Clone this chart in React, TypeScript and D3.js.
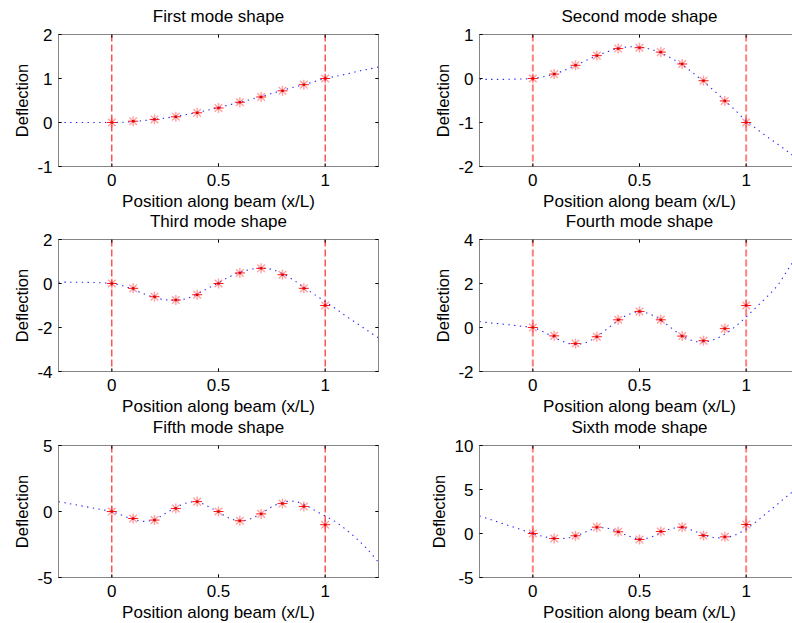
import React from 'react';
import * as d3 from 'd3';

// Beam mode shapes: sampled nodal deflections (asterisks) and the fitted shape (dotted)
const titles = [
  'First mode shape',
  'Second mode shape',
  'Third mode shape',
  'Fourth mode shape',
  'Fifth mode shape',
  'Sixth mode shape',
];

const xDomain: [number, number] = [-0.25, 1.25];
const xTicks = [0, 0.5, 1];
const xTickLabels = ['0', '0.5', '1'];

const yDomains: [number, number][] = [
  [-1, 2],
  [-2, 1],
  [-4, 2],
  [-2, 4],
  [-5, 5],
  [-5, 10],
];
const yTicks = [
  [-1, 0, 1, 2],
  [-2, -1, 0, 1],
  [-4, -2, 0, 2],
  [-2, 0, 2, 4],
  [-5, 0, 5],
  [-5, 0, 5, 10],
];

// Node positions along the beam
const nodeX = [0, 0.1, 0.2, 0.3, 0.4, 0.5, 0.6, 0.7, 0.8, 0.9, 1.0];

const mode1Nodes = [0, 0.03, 0.07, 0.13, 0.22, 0.33, 0.46, 0.58, 0.72, 0.86, 1.0];
const mode2Nodes = [0, 0.1, 0.3, 0.52, 0.68, 0.7, 0.6, 0.33, -0.05, -0.51, -1.0];
const mode3Nodes = [0, -0.22, -0.6, -0.75, -0.51, 0, 0.48, 0.69, 0.4, -0.22, -1.0];
const mode4Nodes = [0, -0.38, -0.73, -0.42, 0.35, 0.73, 0.35, -0.39, -0.6, -0.05, 1.0];
const mode5Nodes = [0, -0.53, -0.65, 0.23, 0.75, 0, -0.7, -0.18, 0.6, 0.38, -1.0];
const mode6Nodes = [0, -0.57, -0.26, 0.72, 0.19, -0.68, 0.23, 0.72, -0.23, -0.38, 1.02];

// Fitted shape sampled every 0.05 from -0.25 to 1.25
const curveX = [
  -0.25, -0.2, -0.15, -0.1, -0.05, 0, 0.05, 0.1, 0.15, 0.2, 0.25, 0.3, 0.35, 0.4, 0.45, 0.5,
  0.55, 0.6, 0.65, 0.7, 0.75, 0.8, 0.85, 0.9, 0.95, 1.0, 1.05, 1.1, 1.15, 1.2, 1.25,
];
const mode1Curve = [
  0, 0, 0, 0, 0, 0, 0.005, 0.02, 0.045, 0.07, 0.1, 0.14, 0.18, 0.23, 0.28, 0.34,
  0.4, 0.46, 0.52, 0.59, 0.66, 0.73, 0.8, 0.86, 0.93, 1.0, 1.05, 1.1, 1.16, 1.21, 1.26,
];
const mode2Curve = [
  -0.02, -0.02, -0.02, -0.015, -0.01, 0, 0.04, 0.1, 0.19, 0.3, 0.41, 0.52, 0.61, 0.68, 0.72, 0.71,
  0.67, 0.58, 0.46, 0.31, 0.13, -0.07, -0.28, -0.5, -0.73, -0.96, -1.15, -1.33, -1.5, -1.68, -1.86,
];
const mode3Curve = [
  0.06, 0.06, 0.055, 0.05, 0.03, 0, -0.1, -0.27, -0.47, -0.63, -0.74, -0.76, -0.68, -0.48, -0.22, 0.03,
  0.3, 0.5, 0.64, 0.7, 0.64, 0.45, 0.17, -0.17, -0.5, -0.82, -1.15, -1.5, -1.82, -2.15, -2.47,
];
const mode4Curve = [
  0.27, 0.21, 0.16, 0.11, 0.05, 0, -0.2, -0.45, -0.67, -0.77, -0.68, -0.42, -0.05, 0.32, 0.6, 0.72,
  0.6, 0.33, -0.03, -0.38, -0.6, -0.66, -0.55, -0.3, 0.05, 0.48, 0.95, 1.42, 1.95, 2.7, 3.4,
];
const mode5Curve = [
  0.75, 0.6, 0.45, 0.3, 0.15, 0, -0.3, -0.6, -0.75, -0.6, -0.15, 0.3, 0.65, 0.72, 0.4, -0.05,
  -0.5, -0.72, -0.55, -0.15, 0.35, 0.68, 0.78, 0.55, 0.1, -0.35, -0.8, -1.4, -2.1, -2.9, -3.85,
];
const mode6Curve = [
  2.0, 1.6, 1.2, 0.8, 0.4, 0, -0.35, -0.55, -0.55, -0.3, 0.2, 0.62, 0.6, 0.2, -0.3, -0.62,
  -0.45, 0.1, 0.55, 0.68, 0.35, -0.15, -0.45, -0.48, -0.15, 0.5, 1.4, 2.4, 3.4, 4.4, 5.3,
];

const nodeSeries = [mode1Nodes, mode2Nodes, mode3Nodes, mode4Nodes, mode5Nodes, mode6Nodes];
const curveSeries = [mode1Curve, mode2Curve, mode3Curve, mode4Curve, mode5Curve, mode6Curve];

// Beam ends marked by dashed verticals
const supportX = [0, 1];

const W = 792;
const H = 623;
const colX = [58.5, 479.5];
const rowY = [34.5, 239.5, 445.5];
const plotW = 320;
const plotH = 132;
const FONT = '"Liberation Sans", Arial, Helvetica, sans-serif';
const FS = 17;
const TICK = 3.2;

const guideStyles = [
  { stroke: '#ff0000', width: 1, dash: '7,3' },
  { stroke: '#ff8080', width: 2, dash: '7,3' },
];

function Star({ cx, cy }: { cx: number; cy: number }) {
  const r = 5;
  const d = 3.8;
  return (
    <g>
      <g stroke="#ff3030" strokeWidth={1.4} opacity={0.45}>
        <line x1={cx - d} y1={cy - d} x2={cx + d} y2={cy + d} />
        <line x1={cx - d} y1={cy + d} x2={cx + d} y2={cy - d} />
        <line x1={cx} y1={cy - r} x2={cx} y2={cy + r} />
      </g>
      <line x1={cx - r} y1={cy} x2={cx + r} y2={cy} stroke="#ff0000" strokeWidth={1} opacity={0.9} />
      <rect x={cx - 1.2} y={cy - 1.2} width={2.4} height={2.4} fill="#e00000" />
    </g>
  );
}

function Panel({ i }: { i: number }) {
  const col = i % 2;
  const row = Math.floor(i / 2);
  const x0 = colX[col];
  const y0 = rowY[row];
  const x = d3.scaleLinear().domain(xDomain).range([x0, x0 + plotW]);
  const y = d3.scaleLinear().domain(yDomains[i]).range([y0 + plotH, y0]);
  const curve = curveSeries[i];
  const line = d3
    .line<number>()
    .x((_, k) => x(curveX[k]))
    .y((v) => y(v))
    .curve(d3.curveCatmullRom);
  const guide = guideStyles[col];
  const clipId = `clip-${i}`;
  const yLabelOffset = i === 5 ? 34.5 : 30.5;

  return (
    <g>
      <defs>
        <clipPath id={clipId}>
          <rect x={x0} y={y0} width={plotW} height={plotH} />
        </clipPath>
      </defs>
      <g clipPath={`url(#${clipId})`}>
        {supportX.map((s) => (
          <line
            key={s}
            x1={x(s)}
            x2={x(s)}
            y1={y0}
            y2={y0 + plotH}
            stroke={guide.stroke}
            strokeWidth={guide.width}
            strokeDasharray={guide.dash}
          />
        ))}
        <path
          d={line(curve) || ''}
          fill="none"
          stroke="#2a2aff"
          strokeWidth={1.1}
          strokeDasharray="1.4,4.4"
        />
        {nodeSeries[i].map((v, k) => (
          <Star key={k} cx={x(nodeX[k])} cy={y(v)} />
        ))}
      </g>
      {/* axes box */}
      <rect x={x0} y={y0} width={plotW} height={plotH} fill="none" stroke="#858585" strokeWidth={1} />
      {/* ticks */}
      <g stroke="#000" strokeWidth={1}>
        {xTicks.map((t) => (
          <g key={`xt${t}`}>
            <line x1={x(t)} x2={x(t)} y1={y0 + plotH} y2={y0 + plotH - TICK} />
            <line x1={x(t)} x2={x(t)} y1={y0} y2={y0 + TICK} />
          </g>
        ))}
        {yTicks[i].map((t) => (
          <g key={`yt${t}`}>
            <line x1={x0} x2={x0 + TICK} y1={y(t)} y2={y(t)} />
            <line x1={x0 + plotW} x2={x0 + plotW - TICK} y1={y(t)} y2={y(t)} />
          </g>
        ))}
      </g>
      <g fontFamily={FONT} fontSize={FS} fill="#000">
        {xTicks.map((t, k) => (
          <text key={`xl${t}`} x={x(t)} y={y0 + plotH + 19} textAnchor="middle">
            {xTickLabels[k]}
          </text>
        ))}
        {yTicks[i].map((t) => (
          <text key={`yl${t}`} x={x0 - 6} y={y(t)} dy="0.36em" textAnchor="end">
            {String(t)}
          </text>
        ))}
        <text x={x0 + plotW / 2} y={y0 - 12.5} textAnchor="middle">
          {titles[i]}
        </text>
        <text x={x0 + plotW / 2} y={y0 + plotH + 40} textAnchor="middle">
          Position along beam (x/L)
        </text>
        <text
          transform={`translate(${x0 - yLabelOffset},${y0 + plotH / 2}) rotate(-90)`}
          textAnchor="middle"
          fontSize={16.5}
        >
          Deflection
        </text>
      </g>
    </g>
  );
}

export default function App() {
  return (
    <svg
      width={W}
      height={H}
      viewBox={`0 0 ${W} ${H}`}
      style={{ position: 'absolute', left: 0, top: 0, background: '#fff' }}
    >
      <rect x={0} y={0} width={W} height={H} fill="#fff" />
      {titles.map((_, i) => (
        <Panel key={i} i={i} />
      ))}
    </svg>
  );
}
